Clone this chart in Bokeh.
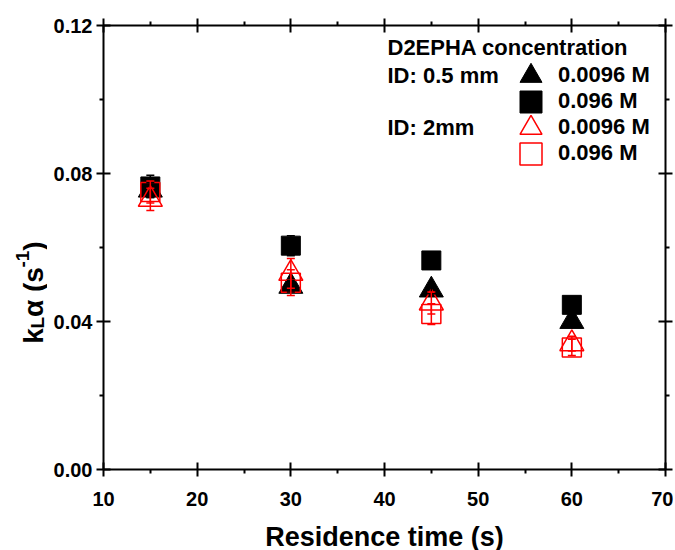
from math import pi
from bokeh.plotting import figure
from bokeh.layouts import row
from bokeh.models import (Range1d, LinearAxis, Whisker, ColumnDataSource, Legend,
                          LegendItem, Label, FixedTicker, NumeralTickFormatter, TeeHead)
from bokeh.core.properties import value, field
from bokeh.embed import file_html
from bokeh.resources import INLINE

# ---- data ----
residence_time = [15, 30, 45, 60]
kla_05mm_00096 = [0.0755, 0.0495, 0.0485, 0.0400]
err_05mm_00096 = [0.0020, 0.0015, 0.0010, 0.0010]
kla_05mm_0096 = [0.0765, 0.0605, 0.0565, 0.0445]
err_05mm_0096 = [0.0030, 0.0027, 0.0008, 0.0008]
kla_2mm_00096 = [0.0730, 0.0530, 0.0450, 0.0340]
err_2mm_00096 = [0.0030, 0.0040, 0.0030, 0.0020]
kla_2mm_0096 = [0.0750, 0.0505, 0.0420, 0.0330]
err_2mm_0096 = [0.0030, 0.0035, 0.0028, 0.0022]

x_major = [10, 20, 30, 40, 50, 60, 70]
y_major = [0.0, 0.04, 0.08, 0.12]
legend_title = "D2EPHA concentration"
group_labels = ["ID: 0.5 mm", "ID: 2mm"]
conc_labels = ["0.0096 M", "0.096 M", "0.0096 M", "0.096 M"]
x_title = "Residence time (s)"
y_title_parts = ["k", "L", "α (s", "-1", ")"]

FONT = "Liberation Sans"

# ---- layout numbers ----
SIDE_W = 47
FRAME_W, FRAME_H = 562, 444
TOP, BOTTOM, LEFT, RIGHT = 25, 80, 103, 8
TOTAL_H = TOP + FRAME_H + BOTTOM

p = figure(frame_width=FRAME_W, frame_height=FRAME_H,
           x_range=Range1d(10, 70), y_range=Range1d(0, 0.12),
           output_backend="svg", toolbar_location=None,
           min_border_left=LEFT - SIDE_W, min_border_top=TOP,
           min_border_bottom=BOTTOM, min_border_right=RIGHT)
p.grid.visible = False
p.outline_line_color = None
p.background_fill_color = "white"
p.border_fill_color = "white"

x_minor = [(a + b) / 2 for a, b in zip(x_major[:-1], x_major[1:])]
y_minor = [(a + b) / 2 for a, b in zip(y_major[:-1], y_major[1:])]


def style_axis(ax, show_labels=True):
    ax.axis_line_width = 2
    ax.axis_line_color = "black"
    ax.major_tick_line_width = 2
    ax.minor_tick_line_width = 2
    ax.major_tick_line_color = "black"
    ax.minor_tick_line_color = "black"
    ax.major_tick_in = 7
    ax.major_tick_out = 7
    ax.minor_tick_in = 0
    ax.minor_tick_out = 4
    ax.major_label_text_font = FONT
    ax.major_label_text_font_style = "bold"
    if show_labels:
        ax.major_label_text_font_size = "20px"
        ax.major_label_text_color = "black"
    else:
        ax.major_label_text_font_size = "1px"
        ax.major_label_text_color = None
        ax.major_label_standoff = 0


xax = p.xaxis[0]
xax.ticker = FixedTicker(ticks=x_major, minor_ticks=x_minor)
style_axis(xax)
xax.major_label_standoff = 15
xax.axis_label = x_title
xax.axis_label_text_font = FONT
xax.axis_label_text_font_style = "bold"
xax.axis_label_text_font_size = "27px"
xax.axis_label_text_color = "black"
xax.axis_label_standoff = 13

yax = p.yaxis[0]
yax.ticker = FixedTicker(ticks=y_major, minor_ticks=y_minor)
yax.formatter = NumeralTickFormatter(format="0.00")
style_axis(yax)
yax.major_label_standoff = 4

top = LinearAxis(ticker=FixedTicker(ticks=x_major, minor_ticks=x_minor))
style_axis(top, False)
p.add_layout(top, "above")
right = LinearAxis(ticker=FixedTicker(ticks=y_major, minor_ticks=y_minor))
style_axis(right, False)
p.add_layout(right, "right")

series = [
    (kla_05mm_00096, err_05mm_00096, "triangle", 24, "black", "black"),
    (kla_05mm_0096, err_05mm_0096, "square", 19, "black", "black"),
    (kla_2mm_00096, err_2mm_00096, "triangle", 24, None, "red"),
    (kla_2mm_0096, err_2mm_0096, "square", 19, None, "red"),
]

renderers = []
for vals, errs, marker, size, fill, line in series:
    src = ColumnDataSource(dict(
        x=residence_time, y=vals,
        lower=[v - e for v, e in zip(vals, errs)],
        upper=[v + e for v, e in zip(vals, errs)]))
    r = p.scatter("x", "y", source=src, marker=marker, size=size,
                  fill_color=fill, line_color=line,
                  line_width=1.5 if fill is None else 1)
    renderers.append(r)
    w = Whisker(source=src, base="x", lower="lower", upper="upper",
                line_color=line, line_width=1.5, level="glyph",
                upper_head=TeeHead(size=8, line_color=line, line_width=1.5),
                lower_head=TeeHead(size=8, line_color=line, line_width=1.5))
    p.add_layout(w)

# one legend per entry so that rows can be closer than the glyph box
GLYPH = 55
first_row_y = 75 - TOP          # row centre below frame top
row_pitch = 26
legend_x = 400
for i, (lab, r) in enumerate(zip(conc_labels, renderers)):
    cy = first_row_y + i * row_pitch
    leg = Legend(items=[LegendItem(label=lab, renderers=[r])],
                 location=(legend_x, FRAME_H - cy - GLYPH / 2),
                 glyph_width=GLYPH, glyph_height=GLYPH,
                 padding=0, margin=0, label_standoff=0,
                 label_text_font=FONT, label_text_font_style="bold",
                 label_text_font_size="22px", label_text_color="black",
                 background_fill_alpha=0, border_line_color=None)
    p.add_layout(leg)

text_x = 284
for txt, cy in [(legend_title, 47 - TOP), (group_labels[0], first_row_y),
                (group_labels[1], first_row_y + 2 * row_pitch)]:
    p.add_layout(Label(x=text_x, y=FRAME_H - cy, x_units="screen", y_units="screen",
                       text=txt, text_font=FONT, text_font_style="bold",
                       text_font_size="22px", text_color="black",
                       text_baseline="middle", text_align="left"))

# ---- y-axis title in a narrow side figure ----
# its frame lines up with the main frame, so map y to "pixels from canvas bottom"
side = figure(width=SIDE_W, height=TOTAL_H, x_range=Range1d(0, SIDE_W),
              y_range=Range1d(BOTTOM, TOTAL_H - TOP), output_backend="svg",
              toolbar_location=None, x_axis_location=None, y_axis_location=None,
              min_border=0)
side.grid.visible = False
side.outline_line_color = None

fs, fs2 = 28, 19
widths = [0.556 * fs, 0.611 * fs2, (0.62 + 0.278 + 0.333 + 0.556) * fs,
          (0.333 + 0.556) * fs2, 0.333 * fs]
shifts = [0, 4, 0, -11, 0]
sizes = [fs, fs2, fs, fs2, fs]
base_x = 33
start_y = TOTAL_H - 347
ys, acc = [], start_y
for wdt in widths:
    ys.append(acc)
    acc += wdt
ysrc = ColumnDataSource(dict(
    x=[base_x + s for s in shifts], y=ys, text=y_title_parts,
    fs=[f"{s}px" for s in sizes]))
side.text("x", "y", text="text", source=ysrc, angle=pi / 2,
          text_font=value(FONT), text_font_style="bold",
          text_font_size=field("fs"), text_color="black",
          text_align="left", text_baseline="alphabetic")

layout = row(side, p, spacing=0)
open("out.html", "w").write(file_html(layout, INLINE))
